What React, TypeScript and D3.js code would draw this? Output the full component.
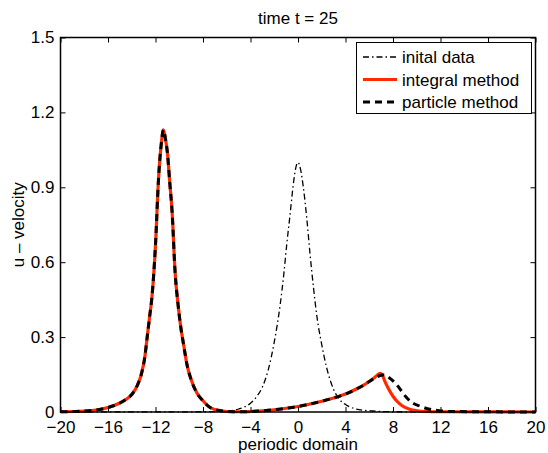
import React, { useEffect, useRef } from "react";
import * as d3 from "d3";

// values: [x, u]
const initialData: [number, number][] = [
  [-20, 0], [-12, 0.0005], [-8, 0.001], [-6, 0.004], [-5, 0.012], [-4, 0.035], [-3.5, 0.06],
  [-3, 0.1], [-2.5, 0.17], [-2, 0.28], [-1.5, 0.43], [-1.2, 0.55], [-0.95, 0.67],
  [-0.67, 0.79], [-0.4, 0.91], [-0.2, 0.975], [0, 1.0], [0.2, 0.975], [0.45, 0.9],
  [0.73, 0.78], [1.0, 0.64], [1.3, 0.5], [1.6, 0.38], [2.0, 0.27], [2.4, 0.18],
  [3.0, 0.09], [3.5, 0.05], [4, 0.03], [4.9, 0.012], [6.3, 0.004], [8, 0.001],
  [12, 0.0005], [20, 0],
];

const solitonLeft: [number, number][] = [
  [-20, 0.001], [-18, 0.004], [-17, 0.008], [-16, 0.018], [-15, 0.036], [-14.5, 0.05],
  [-14, 0.07], [-13.5, 0.11], [-13.2, 0.15], [-12.9, 0.22], [-12.7, 0.3], [-12.5, 0.38],
  [-12.3, 0.46], [-12.0, 0.67], [-11.75, 0.93], [-11.5, 1.08], [-11.33, 1.13],
  [-11.15, 1.09], [-11.0, 1.04], [-10.8, 0.92], [-10.6, 0.8], [-10.35, 0.56],
  [-10.1, 0.43], [-9.9, 0.35], [-9.6, 0.26], [-9.35, 0.19], [-9.0, 0.13], [-8.5, 0.075],
  [-8.0, 0.045], [-7.4, 0.018], [-6.5, 0.005], [-5.5, 0.001], [-4.5, 0.001], [-4, 0.002],
  [-3, 0.005], [-2, 0.009], [-1, 0.015], [0, 0.022], [1, 0.032], [2, 0.043], [3, 0.056],
  [4, 0.072], [5, 0.094], [5.5, 0.107], [6, 0.122],
];

const integralRight: [number, number][] = [
  [6.5, 0.14], [6.9, 0.155], [7.1, 0.148], [7.3, 0.125], [7.6, 0.095], [8.0, 0.063],
  [8.3, 0.045], [8.8, 0.024], [9.4, 0.011], [10, 0.005], [10.8, 0.002], [12, 0.001],
  [20, 0],
];

const particleRight: [number, number][] = [
  [6.5, 0.137], [7.0, 0.147], [7.3, 0.149], [7.6, 0.14], [8.0, 0.125], [8.3, 0.11],
  [8.7, 0.085], [9.1, 0.06], [9.6, 0.038], [10.25, 0.024], [11, 0.012], [11.9, 0.005],
  [13, 0.002], [20, 0],
];

const integralMethod = [...solitonLeft, ...integralRight];
const particleMethod = [...solitonLeft, ...particleRight];

const xTicks = [-20, -16, -12, -8, -4, 0, 4, 8, 12, 16, 20];
const yTicks = [0, 0.3, 0.6, 0.9, 1.2, 1.5];
const legendLabels = ["inital data", "integral method", "particle method"];

const FONT = "'Liberation Sans', Arial, Helvetica, sans-serif";

export default function App() {
  const svgRef = useRef<SVGSVGElement>(null);

  useEffect(() => {
    const w = 548;
    const h = 453;
    const m = { left: 60.5, right: 535.5, top: 37.5, bottom: 412 };
    const svg = d3.select(svgRef.current)
      .attr("width", w)
      .attr("height", h)
      .style("background", "#fff");
    svg.selectAll("*").remove();

    const x = d3.scaleLinear().domain([-20, 20]).range([m.left, m.right]);
    const y = d3.scaleLinear().domain([0, 1.5]).range([m.bottom, m.top]);

    const line = d3.line<[number, number]>()
      .x(d => x(d[0]))
      .y(d => y(d[1]))
      .curve(d3.curveMonotoneX);

    // curves
    svg.append("path")
      .attr("d", line(initialData))
      .attr("fill", "none")
      .attr("stroke", "#000")
      .attr("stroke-width", 1.3)
      .attr("stroke-dasharray", "6,3,1.5,3");
    svg.append("path")
      .attr("d", line(integralMethod))
      .attr("fill", "none")
      .attr("stroke", "#ff2a00")
      .attr("stroke-width", 3.2)
      .attr("stroke-linejoin", "round");
    svg.append("path")
      .attr("d", line(particleMethod))
      .attr("fill", "none")
      .attr("stroke", "#000")
      .attr("stroke-width", 3)
      .attr("stroke-dasharray", "7,5");

    // box + axes (ticks inward, mirrored)
    const tickLen = 5;
    const xAxisBottom = d3.axisBottom(x).tickValues(xTicks).tickSize(-tickLen).tickPadding(9)
      .tickFormat(d => String(d).replace("-", "\u2212"));
    const xAxisTop = d3.axisTop(x).tickValues(xTicks).tickSize(-tickLen).tickFormat(() => "");
    const yAxisLeft = d3.axisLeft(y).tickValues(yTicks).tickSize(-tickLen).tickPadding(6)
      .tickFormat(d => (d === 0 ? "0" : d3.format(".1f")(d as number)));
    const yAxisRight = d3.axisRight(y).tickValues(yTicks).tickSize(-tickLen).tickFormat(() => "");

    const gb = svg.append("g").attr("transform", `translate(0,${m.bottom})`).call(xAxisBottom);
    svg.append("g").attr("transform", `translate(0,${m.top})`).call(xAxisTop);
    const gl = svg.append("g").attr("transform", `translate(${m.left},0)`).call(yAxisLeft);
    svg.append("g").attr("transform", `translate(${m.right},0)`).call(yAxisRight);
    svg.selectAll(".domain").remove();
    svg.selectAll(".tick line").attr("stroke", "#000").attr("stroke-width", 1);
    gb.selectAll("text").attr("font-family", FONT).attr("font-size", 17).attr("fill", "#000");
    gl.selectAll("text").attr("font-family", FONT).attr("font-size", 17).attr("fill", "#000");

    svg.append("rect")
      .attr("x", m.left).attr("y", m.top)
      .attr("width", m.right - m.left).attr("height", m.bottom - m.top)
      .attr("fill", "none").attr("stroke", "#000").attr("stroke-width", 1.5);

    // labels
    svg.append("text")
      .attr("x", (m.left + m.right) / 2).attr("y", 24)
      .attr("text-anchor", "middle")
      .attr("font-family", FONT).attr("font-size", 17)
      .text("time t = 25");
    svg.append("text")
      .attr("x", (m.left + m.right) / 2).attr("y", 450)
      .attr("text-anchor", "middle")
      .attr("font-family", FONT).attr("font-size", 17)
      .text("periodic domain");
    svg.append("text")
      .attr("transform", `translate(24,${(m.top + m.bottom) / 2}) rotate(-90)`)
      .attr("text-anchor", "middle")
      .attr("font-family", FONT).attr("font-size", 17)
      .text("u \u2013 velocity");

    // legend
    const lg = svg.append("g");
    lg.append("rect")
      .attr("x", 356.5).attr("y", 42.5).attr("width", 175).attr("height", 71)
      .attr("fill", "#fff").attr("stroke", "#000").attr("stroke-width", 1);
    const styles = [
      { stroke: "#000", width: 1.3, dash: "6,3,1.5,3" },
      { stroke: "#ff2a00", width: 3.2, dash: null },
      { stroke: "#000", width: 3, dash: "7,5" },
    ];
    legendLabels.forEach((label, i) => {
      const ly = 57 + i * 22.5;
      const s = styles[i];
      lg.append("line")
        .attr("x1", 363).attr("x2", 397).attr("y1", ly).attr("y2", ly)
        .attr("stroke", s.stroke).attr("stroke-width", s.width)
        .attr("stroke-dasharray", s.dash);
      lg.append("text")
        .attr("x", 402).attr("y", ly + 6)
        .attr("font-family", FONT).attr("font-size", 17)
        .text(label);
    });
  }, []);

  return (
    <div style={{ position: "absolute", left: 0, top: 0 }}>
      <svg ref={svgRef}></svg>
    </div>
  );
}
